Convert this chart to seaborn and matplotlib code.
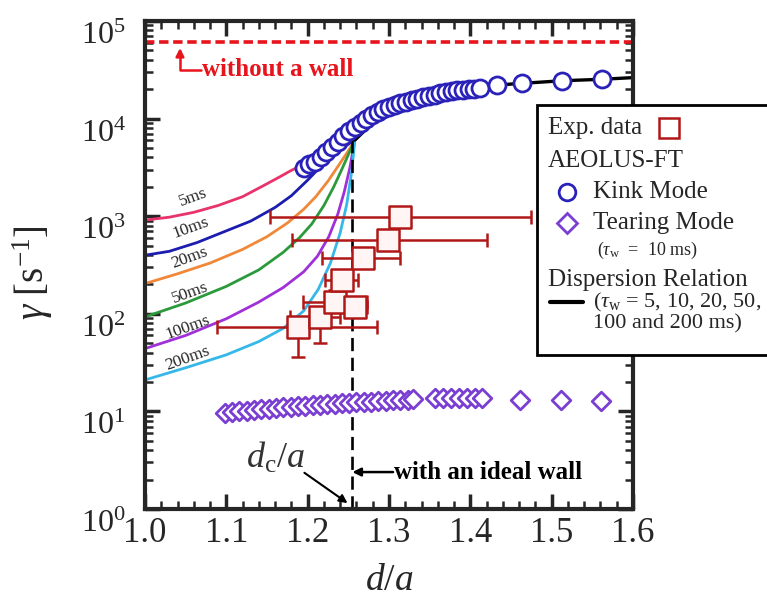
import numpy as np
import pandas as pd
import matplotlib
matplotlib.use("Agg")
import matplotlib.pyplot as plt
import seaborn as sns
from matplotlib.lines import Line2D
from matplotlib.patches import Rectangle
from matplotlib.transforms import ScaledTranslation

# ---------------- data ----------------
kink_x = [1.195, 1.202, 1.209, 1.216, 1.223, 1.230, 1.237, 1.244, 1.251, 1.258,
          1.265, 1.272, 1.279, 1.286, 1.293, 1.300, 1.307, 1.314, 1.321, 1.328,
          1.335, 1.342, 1.349, 1.356, 1.363, 1.370, 1.377, 1.384, 1.391, 1.398,
          1.405, 1.412, 1.433, 1.463, 1.513, 1.562]
kink_y = [3090, 3390, 3630, 4070, 4520, 5130, 5810, 6610, 7410, 8220,
          9120, 10000, 10840, 11750, 12450, 13180, 13800, 14450, 14960, 15490,
          16030, 16520, 17060, 17580, 18110, 18530, 18970, 19410, 19720, 20040,
          20320, 20610, 22080, 22960, 24430, 25290]

ideal_x = [1.258, 1.30, 1.35, 1.40, 1.433, 1.463, 1.513, 1.562, 1.60]
ideal_y = [6026, 13000, 17000, 20000, 22080, 22960, 24430, 25290, 26300]

tear_x = [1.098, 1.107, 1.116, 1.125, 1.134, 1.143, 1.152, 1.161, 1.170, 1.179,
          1.188, 1.197, 1.206, 1.215, 1.224, 1.233, 1.242, 1.251, 1.260, 1.269,
          1.278, 1.287, 1.296, 1.305, 1.314, 1.323, 1.330, 1.356, 1.366, 1.376,
          1.386, 1.396, 1.406, 1.414, 1.461, 1.511, 1.561]
tear_y = [9.6, 9.8, 10.0, 10.1, 10.3, 10.5, 10.6, 10.8, 11.0, 11.1,
          11.3, 11.4, 11.6, 11.7, 11.9, 12.0, 12.1, 12.2, 12.4, 12.5,
          12.6, 12.8, 12.9, 13.0, 13.1, 13.2, 13.4, 13.6, 13.6, 13.7,
          13.7, 13.7, 13.7, 13.7, 13.1, 13.1, 12.9]

disp_labels = ["5ms", "10ms", "20ms", "50ms", "100ms", "200ms"]
disp_x = [
    [1.0, 1.03, 1.06, 1.09, 1.12, 1.145, 1.165, 1.18, 1.195, 1.21, 1.225, 1.24, 1.25, 1.258],
    [1.0, 1.03, 1.064, 1.10, 1.13, 1.16, 1.18, 1.20, 1.215, 1.23, 1.245, 1.258],
    [1.0, 1.04, 1.08, 1.12, 1.15, 1.175, 1.195, 1.21, 1.225, 1.238, 1.25, 1.258],
    [1.0, 1.05, 1.10, 1.14, 1.17, 1.19, 1.205, 1.22, 1.232, 1.242, 1.25, 1.258],
    [1.0, 1.05, 1.10, 1.14, 1.17, 1.195, 1.212, 1.226, 1.237, 1.245, 1.252, 1.258],
    [1.0, 1.05, 1.10, 1.14, 1.17, 1.195, 1.213, 1.228, 1.24, 1.248, 1.254, 1.258],
]
disp_y = [
    [912, 977, 1096, 1288, 1585, 2042, 2512, 2951, 3388, 3981, 4571, 5248, 5623, 6026],
    [398, 437, 537, 708, 891, 1230, 1622, 2344, 3162, 4169, 5129, 6026],
    [204, 257, 331, 457, 617, 851, 1175, 1585, 2291, 3311, 4677, 6026],
    [93, 129, 191, 282, 427, 603, 832, 1288, 1995, 3020, 4266, 6026],
    [44, 60, 89, 132, 186, 269, 389, 617, 1047, 1778, 3162, 6026],
    [21, 28, 38, 52, 71, 107, 178, 331, 676, 1318, 2818, 6026],
]
label_x = [1.059, 1.056, 1.055, 1.055, 1.053, 1.053]
label_y = [1550, 760, 372, 163, 73, 35]

exp_x = [1.188, 1.215, 1.234, 1.258, 1.242, 1.268, 1.299, 1.313]
exp_y = [73, 93, 132, 117, 223, 372, 570, 980]
exp_xlo = [1.089, 1.178, 1.194, 1.245, 1.221, 1.218, 1.181, 1.154]
exp_xhi = [1.285, 1.240, 1.273, 1.273, 1.262, 1.314, 1.421, 1.474]
exp_ylo = [36, 50, 110, 100, 200, 340, 530, 930]
exp_yhi = [90, 115, 175, 150, 255, 410, 610, 1030]

no_wall_gamma = 6.1e4
dc = 1.255

x_ticks = [1.0, 1.1, 1.2, 1.3, 1.4, 1.5, 1.6]
x_tick_labels = ["1.0", "1.1", "1.2", "1.3", "1.4", "1.5", "1.6"]

# ---------------- style ----------------
sns.set_style("ticks")
plt.rcParams["font.family"] = ["Liberation Serif", "DejaVu Serif"]
plt.rcParams["mathtext.fontset"] = "custom"
plt.rcParams["mathtext.rm"] = "Liberation Serif"
plt.rcParams["mathtext.it"] = "Liberation Serif:italic"
plt.rcParams["mathtext.bf"] = "Liberation Serif:bold"

disp_colors = ["#e8336b", "#1c1cb0", "#f0883a", "#2a9a3a", "#a030d8", "#35b8e8"]
red = "#e8141c"
exp_col = "#b01818"
kink_col = "#2a22b8"
tear_col = "#7a3fd2"

fig = plt.figure(figsize=(7.67, 6.0), dpi=100)
ax = fig.add_axes([145 / 767, 1 - 509 / 600, (633 - 145) / 767, (509 - 21) / 600])

# dispersion curves
for i, lab in enumerate(disp_labels):
    df = pd.DataFrame({"x": disp_x[i], "y": disp_y[i]})
    sns.lineplot(data=df, x="x", y="y", ax=ax, color=disp_colors[i], lw=2.0,
                 sort=False, estimator=None, zorder=2)
    ax.text(label_x[i], label_y[i], lab, fontsize=12.5, rotation=20,
            ha="center", va="center", zorder=3)

# ideal-wall (black) branch
sns.lineplot(x=ideal_x, y=ideal_y, ax=ax, color="black", lw=2.4, sort=False,
             estimator=None, zorder=2)

# no wall dashed line
ax.axhline(no_wall_gamma, color=red, lw=2.6, dashes=(2.6, 1.3), zorder=2)

# dc vertical dashed line
ax.plot([dc, dc], [1, 6026], color="black", lw=1.9, dashes=(5, 2.5), zorder=2)

# experimental data
xerr = [np.array(exp_x) - np.array(exp_xlo), np.array(exp_xhi) - np.array(exp_x)]
yerr = [np.array(exp_y) - np.array(exp_ylo), np.array(exp_yhi) - np.array(exp_y)]
ax.errorbar(exp_x, exp_y, xerr=xerr, yerr=yerr, fmt="none", ecolor=exp_col,
            elinewidth=1.8, capsize=5, capthick=1.8, zorder=4)
sns.scatterplot(x=exp_x, y=exp_y, ax=ax, marker="s", s=260, facecolor="#fff5f5",
                edgecolor=exp_col, linewidth=1.8, zorder=5, legend=False)

# kink mode
sns.scatterplot(x=kink_x, y=kink_y, ax=ax, marker="o", s=150, facecolor="white",
                edgecolor=kink_col, linewidth=2.0, zorder=6, legend=False)

# tearing mode
sns.scatterplot(x=tear_x, y=tear_y, ax=ax, marker="D", s=90, facecolor="white",
                edgecolor=tear_col, linewidth=2.0, zorder=6, legend=False)

ax.set_yscale("log")
ax.set_xlim(1.0, 1.6)
ax.set_ylim(1, 1e5)
ax.set_xticks(x_ticks)
ax.set_xticklabels(x_tick_labels)
ax.xaxis.set_minor_locator(matplotlib.ticker.MultipleLocator(0.02))
ax.tick_params(which="major", direction="in", length=11, width=2.5,
               top=True, right=True, pad=8)
ax.tick_params(axis="x", which="major", labelsize=25, pad=6)
ax.tick_params(axis="y", which="major", labelsize=23, pad=14)
ax.tick_params(which="minor", direction="in", length=6, width=1.8,
               top=True, right=True)
for sp in ax.spines.values():
    sp.set_linewidth(3.0)
    sp.set_visible(True)

fig.canvas.draw()
for lbl in ax.get_yticklabels():
    lbl.set_transform(lbl.get_transform() + ScaledTranslation(0, -0.12, fig.dpi_scale_trans))

ax.set_xlabel(r"$d/a$", fontsize=27)
ax.xaxis.set_label_coords(0.5, -0.112)
ax.set_ylabel(r"$\gamma\ [\mathrm{s}^{-1}]$", fontsize=28)
ax.yaxis.set_label_coords(-0.184, 0.484)

# annotations
ax.annotate("", xy=(1.043, 5.3e4), xytext=(1.069, 3.15e4),
            arrowprops=dict(arrowstyle="-|>", connectionstyle="angle,angleA=180,angleB=90,rad=0",
                            color=red, lw=1.8, mutation_scale=12, shrinkA=0, shrinkB=0))
ax.text(1.070, 3.2e4, "without a wall", color=red, fontsize=18, fontweight="bold",
        ha="left", va="center")

ax.annotate("", xy=(dc, 2.39), xytext=(1.305, 2.39),
            arrowprops=dict(arrowstyle="-|>", color="black", lw=1.8, mutation_scale=12,
                            shrinkA=0, shrinkB=0))
ax.text(1.306, 2.39, "with an ideal wall", color="black", fontsize=18, fontweight="bold",
        ha="left", va="center")

ax.text(1.16, 3.3, r"$d_\mathrm{c}/a$", fontsize=26, ha="center", va="center", color="#333333")
ax.annotate("", xy=(1.249, 1.15), xytext=(1.196, 2.35),
            arrowprops=dict(arrowstyle="-|>", color="black", lw=1.5, mutation_scale=12,
                            shrinkA=0, shrinkB=0))

# legend box (manual, in figure pixel coords)
def fx(px):
    return px / 767

def fy(py):
    return 1 - py / 600

fig.add_artist(Rectangle((fx(537), fy(355)), fx(800) - fx(537), fy(105) - fy(355),
                         transform=fig.transFigure, facecolor="white", edgecolor="black",
                         lw=2.0, zorder=10, clip_on=False))
lfs = 18
fig.text(fx(548), fy(128), "Exp. data", fontsize=lfs, va="center", ha="left", zorder=11)
fig.add_artist(Line2D([fx(669)], [fy(128)], transform=fig.transFigure, marker="s",
                      markersize=15, markerfacecolor="white", markeredgecolor=exp_col,
                      markeredgewidth=1.8, zorder=11))
fig.text(fx(548), fy(161), "AEOLUS-FT", fontsize=lfs, va="center", ha="left", zorder=11)
fig.add_artist(Line2D([fx(567)], [fy(192)], transform=fig.transFigure, marker="o",
                      markersize=12, markerfacecolor="white", markeredgecolor=kink_col,
                      markeredgewidth=2.0, zorder=11))
fig.text(fx(593), fy(192), "Kink Mode", fontsize=lfs, va="center", ha="left", zorder=11)
fig.add_artist(Line2D([fx(567)], [fy(223)], transform=fig.transFigure, marker="D",
                      markersize=10, markerfacecolor="white", markeredgecolor=tear_col,
                      markeredgewidth=2.0, zorder=11))
fig.text(fx(593), fy(223), "Tearing Mode", fontsize=lfs, va="center", ha="left", zorder=11)
fig.text(fx(597), fy(250), r"($\tau_\mathrm{w}$  =  10 ms)", fontsize=13, va="center",
         ha="left", zorder=11)
fig.text(fx(548), fy(280), "Dispersion Relation", fontsize=lfs, va="center", ha="left", zorder=11)
fig.add_artist(Line2D([fx(550), fx(583)], [fy(302), fy(302)], transform=fig.transFigure,
                      color="black", lw=3.0, zorder=11))
fig.text(fx(593), fy(302), r"($\tau_\mathrm{w}$ = 5, 10, 20, 50,", fontsize=16, va="center",
         ha="left", zorder=11)
fig.text(fx(593), fy(324), "100 and 200 ms)", fontsize=16, va="center", ha="left", zorder=11)

fig.savefig("out.png", dpi=100)
